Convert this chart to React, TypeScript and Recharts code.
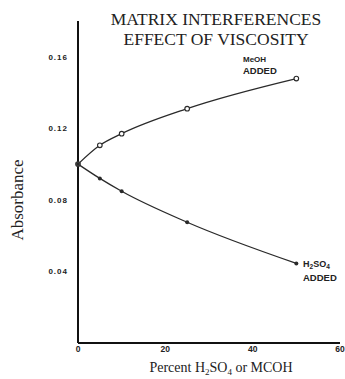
import React from "react";
import { LineChart, Line, XAxis, YAxis, Label } from "recharts";

const percent = [0, 5, 10, 25, 50];
const meohAbs = [0.1, 0.1105, 0.117, 0.131, 0.1478];
const h2so4Abs = [0.1, 0.092, 0.0848, 0.0675, 0.0445];
const xTicks = [0, 20, 40, 60];
const yTicks = [0.04, 0.08, 0.12, 0.16];

const data = percent.map((p, i) => ({ p, meoh: meohAbs[i], h2so4: h2so4Abs[i] }));

const INK = "#2a2a2a";
const SERIF = "'Liberation Serif', 'Times New Roman', serif";
const SANS = "'Liberation Sans', Arial, sans-serif";

const OpenDot = (props: any) => {
  const { cx, cy } = props;
  if (cx == null || cy == null) return null;
  return <circle cx={cx} cy={cy} r={2.3} fill="#fff" stroke={INK} strokeWidth={1.1} />;
};
const FilledDot = (props: any) => {
  const { cx, cy } = props;
  if (cx == null || cy == null) return null;
  return <circle cx={cx} cy={cy} r={2} fill={INK} stroke="none" />;
};

export default function App() {
  return (
    <div style={{ position: "absolute", left: 0, top: 0, width: 345, height: 379, background: "#fff" }}>
      <LineChart width={345} height={379} data={data} margin={{ top: 21, right: 5, bottom: 0, left: 0 }}>
        <XAxis
          dataKey="p"
          type="number"
          domain={[0, 60]}
          ticks={xTicks}
          height={36}
          tickSize={0}
          tickMargin={3}
          tickLine={false}
          axisLine={{ stroke: "#111", strokeWidth: 2 }}
          tick={{ fill: "#222", fontSize: 8.5, fontWeight: 700, fontFamily: SANS }}
        >
          <Label
            content={() => (
              <text x={221} y={372} textAnchor="middle" fontFamily={SERIF} fontSize={14} fill="#222">
                Percent H<tspan fontSize={9} dy={3}>2</tspan>
                <tspan dy={-3}>SO</tspan>
                <tspan fontSize={9} dy={3}>4</tspan>
                <tspan dy={-3}> or MCOH</tspan>
              </text>
            )}
          />
        </XAxis>
        <YAxis
          type="number"
          domain={[0, 0.18]}
          ticks={yTicks}
          width={78}
          tickSize={0}
          tickMargin={10}
          tickLine={false}
          axisLine={{ stroke: "#111", strokeWidth: 2 }}
          tickFormatter={(v: number) => v.toFixed(2)}
          tick={{ fill: "#222", fontSize: 8, fontWeight: 700, fontFamily: SANS, letterSpacing: 1 }}
        >
          <Label
            content={() => (
              <text
                x={23}
                y={200}
                textAnchor="middle"
                transform="rotate(-90 23 200)"
                fontFamily={SERIF}
                fontSize={17}
                fill="#222"
              >
                Absorbance
              </text>
            )}
          />
        </YAxis>
        <Line
          dataKey="meoh"
          type="monotone"
          stroke={INK}
          strokeWidth={1.3}
          dot={<OpenDot />}
          activeDot={false}
          isAnimationActive={false}
        />
        <Line
          dataKey="h2so4"
          type="monotone"
          stroke={INK}
          strokeWidth={1.3}
          dot={<FilledDot />}
          activeDot={false}
          isAnimationActive={false}
        />
        <text x={216} y={25} textAnchor="middle" fontFamily={SERIF} fontSize={17.5} fill="#222">
          MATRIX INTERFERENCES
        </text>
        <text x={216} y={45} textAnchor="middle" fontFamily={SERIF} fontSize={17.5} fill="#222">
          EFFECT OF VISCOSITY
        </text>
        <text x={243} y={62} fontFamily={SANS} fontSize={8} fontWeight={700} fill="#222">
          MeOH
        </text>
        <text x={243} y={74} fontFamily={SANS} fontSize={9.5} fontWeight={700} fill="#222">
          ADDED
        </text>
        <text x={303} y={267} fontFamily={SANS} fontSize={9} fontWeight={700} fill="#222">
          H<tspan fontSize={6.5} dy={2}>2</tspan>
          <tspan dy={-2}>SO</tspan>
          <tspan fontSize={6.5} dy={2}>4</tspan>
        </text>
        <text x={303} y={281} fontFamily={SANS} fontSize={9.5} fontWeight={700} fill="#222">
          ADDED
        </text>
      </LineChart>
    </div>
  );
}
